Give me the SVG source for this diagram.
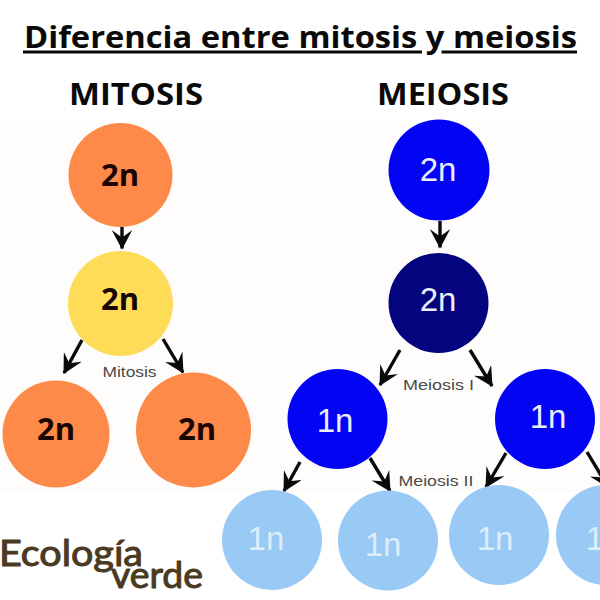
<svg xmlns="http://www.w3.org/2000/svg" width="600" height="600" viewBox="0 0 600 600">
<style>
.os{font-family:"Open Sans","Liberation Sans",sans-serif;font-weight:700;fill:#0a0a0a}
.n2{font-family:"Open Sans","Liberation Sans",sans-serif;font-weight:700;font-size:31px;fill:#1a0505;text-anchor:middle}
.w{font-family:"Liberation Sans",sans-serif;font-size:33px;text-anchor:middle}
.lab{font-family:"Liberation Sans",sans-serif;font-size:14.5px;fill:#4a4a4a;text-anchor:middle}
.logo{font-family:Lato,"Open Sans",sans-serif;font-weight:400;fill:#4a3a22;stroke:#4a3a22;stroke-width:1;stroke-linejoin:round}
.o{fill:#fd8a48}.y{fill:#fedc57}.b{fill:#0404f4}.d{fill:#04047f}.l{fill:#99c9f5}
.wt{fill:#e8eefa}.lt{fill:#dcedfb}
#connectors path{fill:none;stroke:#0a0a0a;stroke-width:3.4;marker-end:url(#ah)}
</style>
<defs>
<marker id="ah" viewBox="0 0 10 10" refX="9" refY="5" markerWidth="6" markerHeight="6" orient="auto"><path d="M9.5 5 L0 0 L3.6 5 L0 10 Z" fill="#0a0a0a"/></marker>
</defs>
<rect width="600" height="600" fill="#fff"/>
<rect x="0" y="122" width="600" height="370" fill="#fefdfc"/>
<text id="title" class="os" x="24" y="48" font-size="30.6" textLength="553" lengthAdjust="spacingAndGlyphs">Diferencia entre mitosis y meiosis</text>
<rect x="23" y="50.5" width="399" height="3" fill="#0a0a0a"/>
<rect x="441.5" y="50.5" width="135.5" height="3" fill="#0a0a0a"/>
<text class="os" x="69" y="105" font-size="30.5" textLength="134" lengthAdjust="spacingAndGlyphs">MITOSIS</text>
<text class="os" x="377" y="105" font-size="30.5" textLength="132" lengthAdjust="spacingAndGlyphs">MEIOSIS</text>
<g id="connectors">
<path d="M122 227V248.5"/>
<path d="M82 340L64 373"/>
<path d="M163 339L183 372.5"/>
<path d="M440 221V247.5"/>
<path d="M400 350L380 385"/>
<path d="M470 350L492 386"/>
<path d="M300 462L284 491"/>
<path d="M370 458L390 491"/>
<path d="M506 453L486 487"/>
<path d="M587 452L608 487"/>
</g>
<g id="m1"><circle class="o" cx="120.5" cy="175" r="52"/><text class="n2" x="120" y="186">2n</text></g>
<g id="m2"><circle class="y" cx="120.5" cy="303.5" r="52.5"/><text class="n2" x="120" y="310">2n</text></g>
<g id="m3"><circle class="o" cx="56" cy="434" r="53.5"/><text class="n2" x="56" y="440">2n</text></g>
<g id="m4"><circle class="o" cx="193.5" cy="430" r="57.5"/><text class="n2" x="197" y="440">2n</text></g>
<text id="lab-mitosis" class="lab" x="129.5" y="377" textLength="54" lengthAdjust="spacingAndGlyphs">Mitosis</text>
<g id="e1"><circle class="b" cx="439" cy="170" r="50.5"/><text class="w wt" x="438" y="181">2n</text></g>
<g id="e2"><circle class="d" cx="438.5" cy="303" r="50"/><text class="w wt" x="438" y="311">2n</text></g>
<g id="e3"><circle class="b" cx="337.5" cy="419" r="50"/><text class="w wt" x="335" y="432">1n</text></g>
<g id="e4"><circle class="b" cx="545" cy="419" r="50"/><text class="w wt" x="548" y="428">1n</text></g>
<text id="lab-m1" class="lab" x="438.5" y="390" textLength="71" lengthAdjust="spacingAndGlyphs">Meiosis I</text>
<text id="lab-m2" class="lab" x="436" y="486" textLength="75" lengthAdjust="spacingAndGlyphs">Meiosis II</text>
<g id="e5"><circle class="l" cx="272" cy="540" r="50"/><text class="w lt" x="266" y="550">1n</text></g>
<g id="e6"><circle class="l" cx="388" cy="540.5" r="50"/><text class="w lt" x="383" y="556">1n</text></g>
<g id="e7"><circle class="l" cx="499" cy="535" r="50"/><text class="w lt" x="495" y="550">1n</text></g>
<g id="e8"><circle class="l" cx="606" cy="535" r="50"/><text class="w lt" x="604" y="550">1n</text></g>
<g id="logo">
<text class="logo" x="-1" y="566" font-size="36" textLength="144" lengthAdjust="spacingAndGlyphs">Ecología</text>
<text class="logo" x="111" y="588" font-size="36" textLength="92" lengthAdjust="spacingAndGlyphs">verde</text>
</g>
</svg>
